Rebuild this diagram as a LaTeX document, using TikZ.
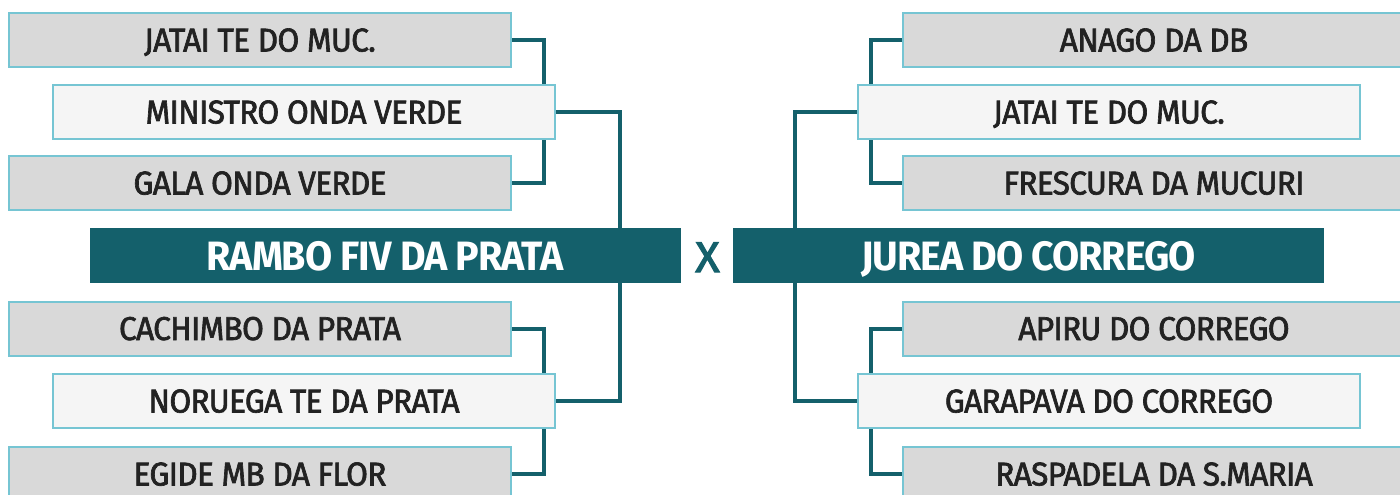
\documentclass[tikz,border=0pt]{standalone}
\usepackage{fontspec}
\setmainfont{Fira Sans}
\newfontfamily\horsefont{Fira Sans}[FakeStretch=0.96,LetterSpace=-2.2,FakeBold=2]
\newfontfamily\champfont{Fira Sans}[FakeStretch=0.96,LetterSpace=-2.5]
\newfontfamily\versusfont{Fira Sans}[FakeStretch=1.05,FakeBold=2.5]
\usetikzlibrary{backgrounds}
\definecolor{teal}{HTML}{14606B}
\definecolor{bord}{HTML}{76C5D3}
\definecolor{gbox}{HTML}{D9D9D9}
\definecolor{lbox}{HTML}{F5F5F5}
\definecolor{txt}{HTML}{222222}
\tikzset{
  horse/.style={draw=bord, line width=2pt, fill=gbox, minimum width=502pt, minimum height=54pt,
    inner sep=0pt, text=txt, font=\horsefont\fontsize{33}{33}\selectfont, text height=23pt, text depth=0pt},
  horselight/.style={horse, fill=lbox},
  mainbox/.style={fill=teal, minimum width=591pt, minimum height=55pt, inner sep=0pt, text=white,
    font=\champfont\fontsize{41}{41}\selectfont\bfseries, text height=29pt, text depth=0pt},
  link/.style={draw=teal, line width=4pt}
}
\begin{document}
\begin{tikzpicture}[x=1pt,y=-1pt]
\useasboundingbox (0,0) rectangle (1400,495);
% left
\node[horse] (L1) at (260,40) {JATAI TE DO MUC.};
\node[horselight] (L2) at (304,112) {MINISTRO ONDA VERDE};
\node[horse] (L3) at (260,183) {GALA ONDA VERDE};
\node[mainbox] (LM) at (385,255.5) {RAMBO FIV DA PRATA};
\node[horse] (L4) at (260,328.5) {CACHIMBO DA PRATA};
\node[horselight] (L5) at (304,401) {NORUEGA TE DA PRATA};
\node[horse] (L6) at (260,474) {EGIDE MB DA FLOR};
% right
\node[horse] (R1) at (1154,40) {ANAGO DA DB};
\node[horselight] (R2) at (1109,112) {JATAI TE DO MUC.};
\node[horse] (R3) at (1154,183) {FRESCURA DA MUCURI};
\node[mainbox] (RM) at (1028.5,255.5) {JUREA DO CORREGO};
\node[horse] (R4) at (1154,328.5) {APIRU DO CORREGO};
\node[horselight] (R5) at (1109,401) {GARAPAVA DO CORREGO};
\node[horse] (R6) at (1154,474) {RASPADELA DA S.MARIA};
\node[text=teal, font=\versusfont\fontsize{43}{43}\selectfont, text height=30pt, text depth=0pt, inner sep=0pt] (X) at (707.5,257) {X};
\coordinate (lx) at (620,0);
\coordinate (rx) at (795,0);
\begin{scope}[on background layer]
\draw[link] (L1.east) -- ++(32,0) |- (L3.east);
\draw[link] (L4.east) -- ++(32,0) |- (L6.east);
\draw[link] (L2.east) -| (LM.north -| lx);
\draw[link] (LM.south -| lx) |- (L5.east);
\draw[link] (R1.west) -- ++(-31,0) |- (R3.west);
\draw[link] (R4.west) -- ++(-31,0) |- (R6.west);
\draw[link] (R2.west) -| (RM.north -| rx);
\draw[link] (RM.south -| rx) |- (R5.west);
\end{scope}
\end{tikzpicture}
\end{document}
